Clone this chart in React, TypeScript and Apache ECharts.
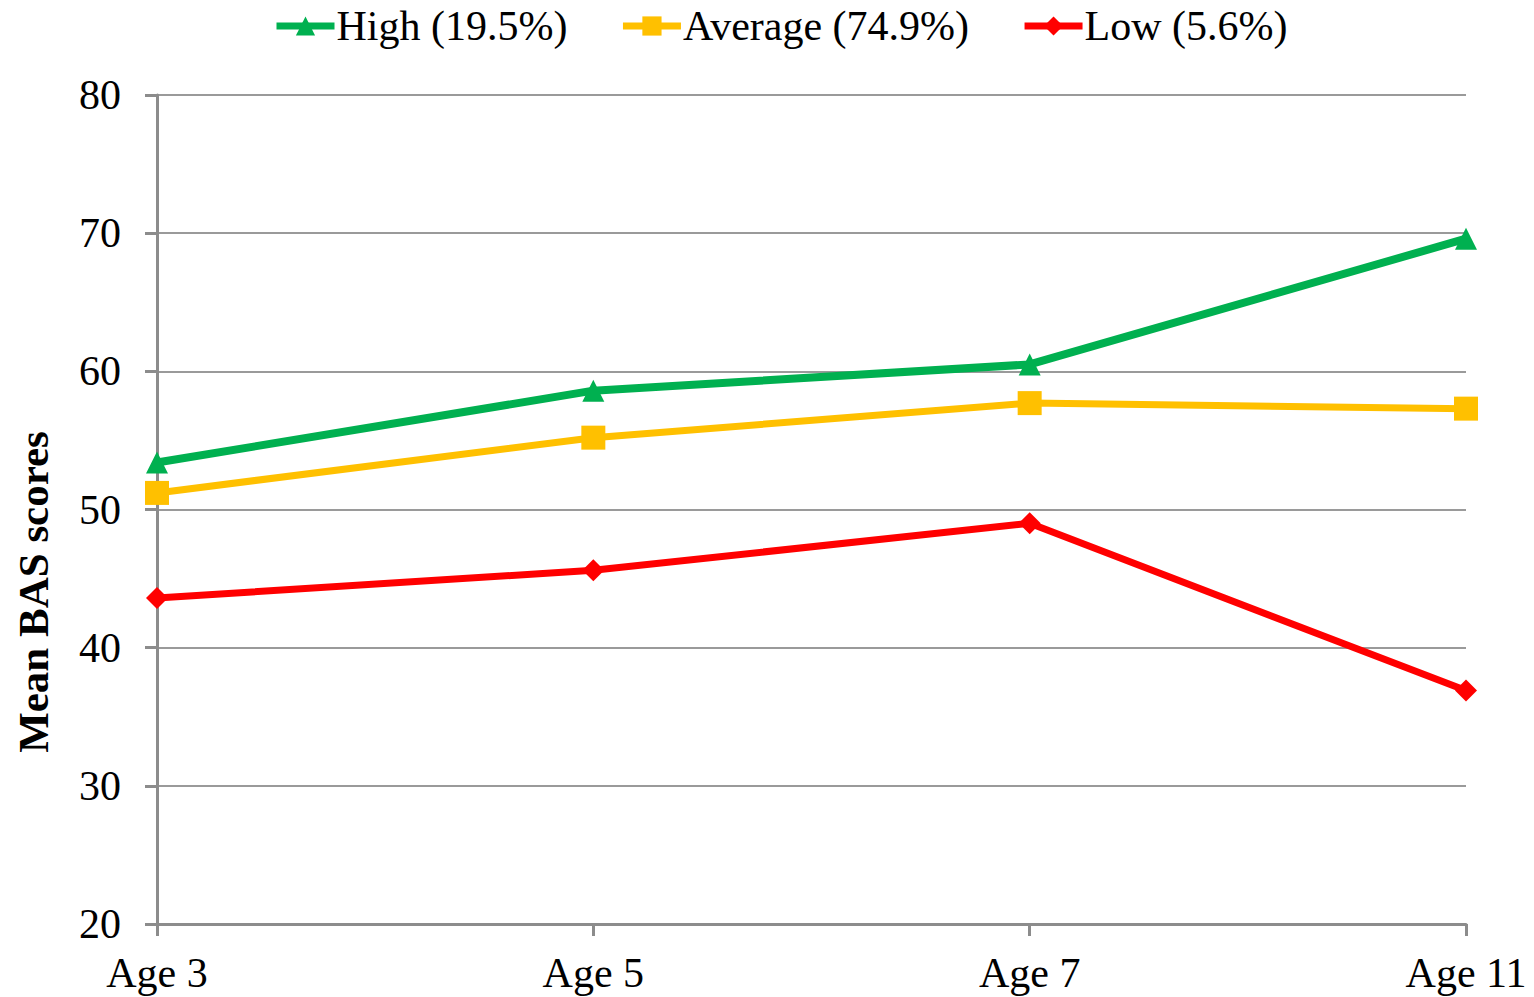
import React, { useEffect, useRef } from "react";
import * as echarts from "echarts";

const categories = ["Age 3", "Age 5", "Age 7", "Age 11"];
const highValues = [53.4, 58.6, 60.5, 69.6];
const averageValues = [51.2, 55.2, 57.7, 57.3];
const lowValues = [43.6, 45.6, 49.0, 36.9];
const seriesNames = ["High (19.5%)", "Average (74.9%)", "Low (5.6%)"];
const yTitle = "Mean BAS scores";

const FONT = "'Liberation Serif', 'Times New Roman', serif";

export default function App() {
  const ref = useRef<HTMLDivElement>(null);
  useEffect(() => {
    if (!ref.current) return;
    const chart = echarts.init(ref.current, undefined, { renderer: "svg" });
    const axisGray = "#8c8c8c";
    chart.setOption({
      animation: false,
      backgroundColor: "#ffffff",
      textStyle: { fontFamily: FONT },
      legend: {
        top: 0,
        left: 268,
        itemWidth: 58,
        itemHeight: 24,
        itemGap: 52,
        lineStyle: { width: 7 },
        textStyle: { fontFamily: FONT, fontSize: 42, color: "#000", padding: [0, 0, 0, -3] },
        data: seriesNames,
      },
      grid: { left: 157, right: 68, top: 95, bottom: 73, containLabel: false },
      xAxis: {
        type: "category",
        data: categories,
        boundaryGap: false,
        axisLine: { show: true, lineStyle: { color: axisGray, width: 3 } },
        axisTick: { show: true, length: 12, lineStyle: { color: axisGray, width: 3 } },
        axisLabel: { fontFamily: FONT, fontSize: 42, color: "#000", margin: 28 },
        splitLine: { show: false },
      },
      yAxis: {
        type: "value",
        min: 20,
        max: 80,
        interval: 10,
        axisLine: { show: true, lineStyle: { color: axisGray, width: 3 } },
        axisTick: { show: true, length: 12, lineStyle: { color: axisGray, width: 3 } },
        axisLabel: { fontFamily: FONT, fontSize: 42, color: "#000", margin: 36 },
        splitLine: { show: true, lineStyle: { color: "#9a9a9a", width: 2 } },
      },
      graphic: [
        {
          type: "text",
          x: 33,
          y: 592,
          rotation: Math.PI / 2,
          style: {
            text: yTitle,
            font: `bold 43px ${FONT}`,
            fill: "#000",
            align: "center",
            verticalAlign: "middle",
          },
        },
      ],
      series: [
        {
          name: seriesNames[0],
          type: "line",
          data: highValues,
          symbol: "triangle",
          symbolSize: 22,
          itemStyle: { color: "#00B050" },
          lineStyle: { color: "#00B050", width: 8 },
          z: 3,
        },
        {
          name: seriesNames[1],
          type: "line",
          data: averageValues,
          symbol: "rect",
          symbolSize: 24,
          itemStyle: { color: "#FFC000" },
          lineStyle: { color: "#FFC000", width: 7 },
          z: 2,
        },
        {
          name: seriesNames[2],
          type: "line",
          data: lowValues,
          symbol: "diamond",
          symbolSize: 22,
          itemStyle: { color: "#FF0000" },
          lineStyle: { color: "#FF0000", width: 7 },
          z: 4,
        },
      ],
    });
    return () => chart.dispose();
  }, []);
  return (
    <div
      ref={ref}
      style={{ position: "fixed", left: 0, top: 0, width: 1534, height: 997 }}
    />
  );
}
